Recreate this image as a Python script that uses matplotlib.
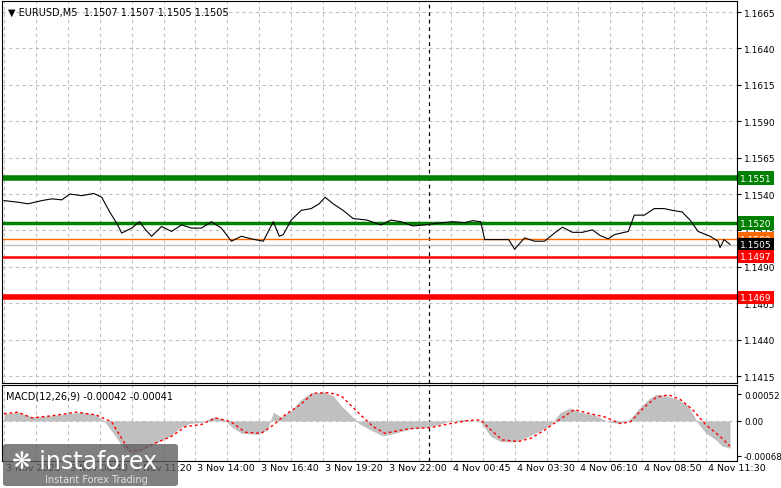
import matplotlib.pyplot as plt
from matplotlib.patches import FancyBboxPatch
from matplotlib.transforms import blended_transform_factory

# price (close), x in bars (M5)
price_x = [0, 7, 12, 19, 24, 29, 33, 39, 45, 49, 53, 57, 59, 64, 68, 71, 74, 79, 84, 89,
           94, 99, 104, 109, 114, 119, 124, 130, 135, 138, 140, 144, 149, 154, 158, 161, 165, 170, 175, 182,
           189, 194, 199, 205, 211, 217, 225, 231, 235, 239, 241, 246, 253, 256, 261, 266, 271, 276, 280, 285,
           290, 295, 299, 303, 306, 313, 316, 321, 326, 331, 335, 340, 344, 348, 354, 358, 359, 361, 364]
price_y = [1.15355, 1.15344, 1.15333, 1.15355, 1.15367, 1.15360, 1.15400, 1.15389, 1.15404, 1.15378,
           1.15277, 1.15188, 1.15132, 1.15166, 1.15210, 1.15154, 1.15110, 1.15177, 1.15143, 1.15188,
           1.15166, 1.15166, 1.15210, 1.15166, 1.15076, 1.15110, 1.15092, 1.15076, 1.15210, 1.15110,
           1.15121, 1.15221, 1.15288, 1.15300, 1.15333, 1.15378, 1.15333, 1.15288, 1.15232, 1.15221,
           1.15188, 1.15221, 1.15210, 1.15181, 1.15188, 1.15199, 1.15210, 1.15203, 1.15217, 1.15210,
           1.15087, 1.15087, 1.15087, 1.15021, 1.15099, 1.15076, 1.15076, 1.15132, 1.15172, 1.15137,
           1.15137, 1.15154, 1.15114, 1.15092, 1.15121, 1.15143, 1.15255, 1.15255, 1.15300, 1.15300,
           1.15288, 1.15277, 1.15221, 1.15143, 1.15110, 1.15076, 1.15032, 1.15087, 1.15054]

# MACD histogram and signal, in 1e-5
hist_x = [0, 7, 14, 24, 31, 39, 46, 50, 55, 60, 65, 70, 76, 83, 88, 93, 99, 105, 110, 114,
          119, 127, 132, 135, 139, 144, 149, 154, 161, 165, 169, 174, 178, 184, 190, 196, 204, 211, 217, 225,
          231, 239, 244, 249, 256, 261, 268, 274, 279, 284, 289, 296, 303, 309, 314, 318, 323, 327, 332, 338,
          343, 348, 352, 357, 360, 364]
hist_y = [14, 17, 8, 10, 14, 17, 12, 1, -25, -53, -65, -56, -43, -30, -14, -5, -3, 8, 4, -11,
          -24, -26, -18, 17, 8, 20, 42, 55, 56, 49, 30, 11, -5, -18, -29, -24, -15, -13, -8, 1,
          3, -2, -30, -40, -41, -34, -21, -8, 17, 25, 17, 12, -2, -5, 4, 23, 42, 52, 49, 42,
          30, -5, -24, -37, -49, -53]
sig_x = [0, 7, 14, 24, 36, 46, 54, 59, 63, 69, 76, 84, 91, 99, 106, 114, 121, 129, 135, 141,
         149, 155, 163, 169, 174, 179, 185, 191, 199, 204, 214, 224, 233, 239, 245, 250, 258, 264, 271, 279,
         286, 294, 301, 309, 314, 321, 327, 333, 339, 345, 352, 359, 364]
sig_y = [14, 17, 6, 10, 17, 12, -2, -34, -59, -56, -43, -30, -11, -7, 6, -2, -22, -24, -8, 12,
         33, 54, 55, 49, 30, 11, -11, -24, -18, -15, -13, -5, 1, 2, -21, -37, -40, -34, -18, 4,
         22, 14, 8, -5, -2, 27, 46, 51, 42, 23, -8, -30, -49]

price_ticks = [1.1665, 1.1640, 1.1615, 1.1590, 1.1565, 1.1540, 1.1515, 1.1490, 1.1465, 1.1440, 1.1415]
time_pos = [0, 32, 64, 96, 128, 160, 192, 224, 256, 288, 320, 352]
time_labels = ["3 Nov 2025", "3 Nov 08:40", "3 Nov 11:20", "3 Nov 14:00", "3 Nov 16:40", "3 Nov 19:20",
               "3 Nov 22:00", "4 Nov 00:45", "4 Nov 03:30", "4 Nov 06:10", "4 Nov 08:50", "4 Nov 11:30"]
# level, colour, width, label bg
levels = [(1.1551, "#008000", 4, "#008000"), (1.1520, "#008000", 2.5, "#008000"),
          (1.1509, "#ff6a00", 1, "#ff6a00"), (1.1505, "#c0c0c0", 1, "#000000"),
          (1.1497, "#ff0000", 1.8, "#ff0000"), (1.1469, "#ff0000", 4, "#ff0000")]

W, H = 781, 489
fig = plt.figure(figsize=(7.81, 4.89), dpi=100)
ax = fig.add_axes([2 / W, 1 - 384 / H, 735 / W, 382 / H])
ax2 = fig.add_axes([2 / W, 1 - 462 / H, 735 / W, 76 / H])

XMAX = 367.5
grid_kw = dict(color="#c0c0c0", ls=(0, (3, 3)), lw=0.8)
for a in (ax, ax2):
    a.set_xlim(-1, XMAX)
    for x in range(0, 368, 16):
        a.axvline(x, zorder=0, **grid_kw)
    a.axvline(213, color="black", ls=(0, (3, 3)), lw=0.9, zorder=1)
    a.yaxis.tick_right()
    a.tick_params(axis="y", labelsize=6.5, length=3, pad=2)
    a.set_xticks([])
    for s in a.spines.values():
        s.set_linewidth(0.8)

ax.set_ylim(1.14102, 1.16726)
ax.set_yticks(price_ticks)
ax.set_yticklabels([f"{v:.4f}" for v in price_ticks])
for v in price_ticks:
    ax.axhline(v, zorder=0, **grid_kw)

tr = blended_transform_factory(ax.transAxes, ax.transData)
for lv, col, lw, bg in levels:
    ax.axhline(lv, color=col, lw=lw, zorder=2)
    ax.text(1.004, lv, f"{lv:.4f}", transform=tr, fontsize=6.5, color="white", va="center", ha="left",
            bbox=dict(boxstyle="square,pad=0.25", fc=bg, ec="none"), clip_on=False, zorder=5)

ax.plot(price_x, price_y, color="black", lw=0.8, zorder=3)
ax.text(0.008, 0.985, "▼ EURUSD,M5  1.1507 1.1507 1.1505 1.1505", transform=ax.transAxes,
        fontsize=7, va="top", ha="left")

ax2.set_ylim(-0.00078, 0.0007)
ax2.set_yticks([0.00052, 0.0, -0.00068])
ax2.set_yticklabels(["0.00052", "0.00", "-0.00068"])
ax2.tick_params(axis="y", labelsize=6.2)
ax2.axhline(0, zorder=0, **grid_kw)
ax2.fill_between(hist_x, [v * 1e-5 for v in hist_y], 0, color="#c0c0c0", lw=0, zorder=2)
ax2.plot(sig_x, [v * 1e-5 for v in sig_y], color="red", ls=(0, (2, 2)), lw=1, zorder=3)
ax2.text(0.005, 0.93, "MACD(12,26,9) -0.00042 -0.00041", transform=ax2.transAxes,
         fontsize=7, va="top", ha="left")

for p, lab in zip(time_pos, time_labels):
    ax2.text(p + 1, -0.00082, lab, fontsize=6.8, va="top", ha="left", clip_on=False)

# watermark logo
fig.patches.append(FancyBboxPatch((3 / W, 1 - 487 / H), 175 / W, 42 / H, boxstyle="round,pad=0,rounding_size=0.005",
                                  transform=fig.transFigure, fc="#606060", ec="none", alpha=0.8, zorder=10))
fig.text(12 / W, 1 - 462 / H, "❋ instaforex", fontsize=17, color="white", va="center", ha="left", zorder=11)
fig.text(45 / W, 1 - 480 / H, "Instant Forex Trading", fontsize=7, color="#e0e0e0", va="center", ha="left", zorder=11)

fig.savefig("out.png", dpi=100)
